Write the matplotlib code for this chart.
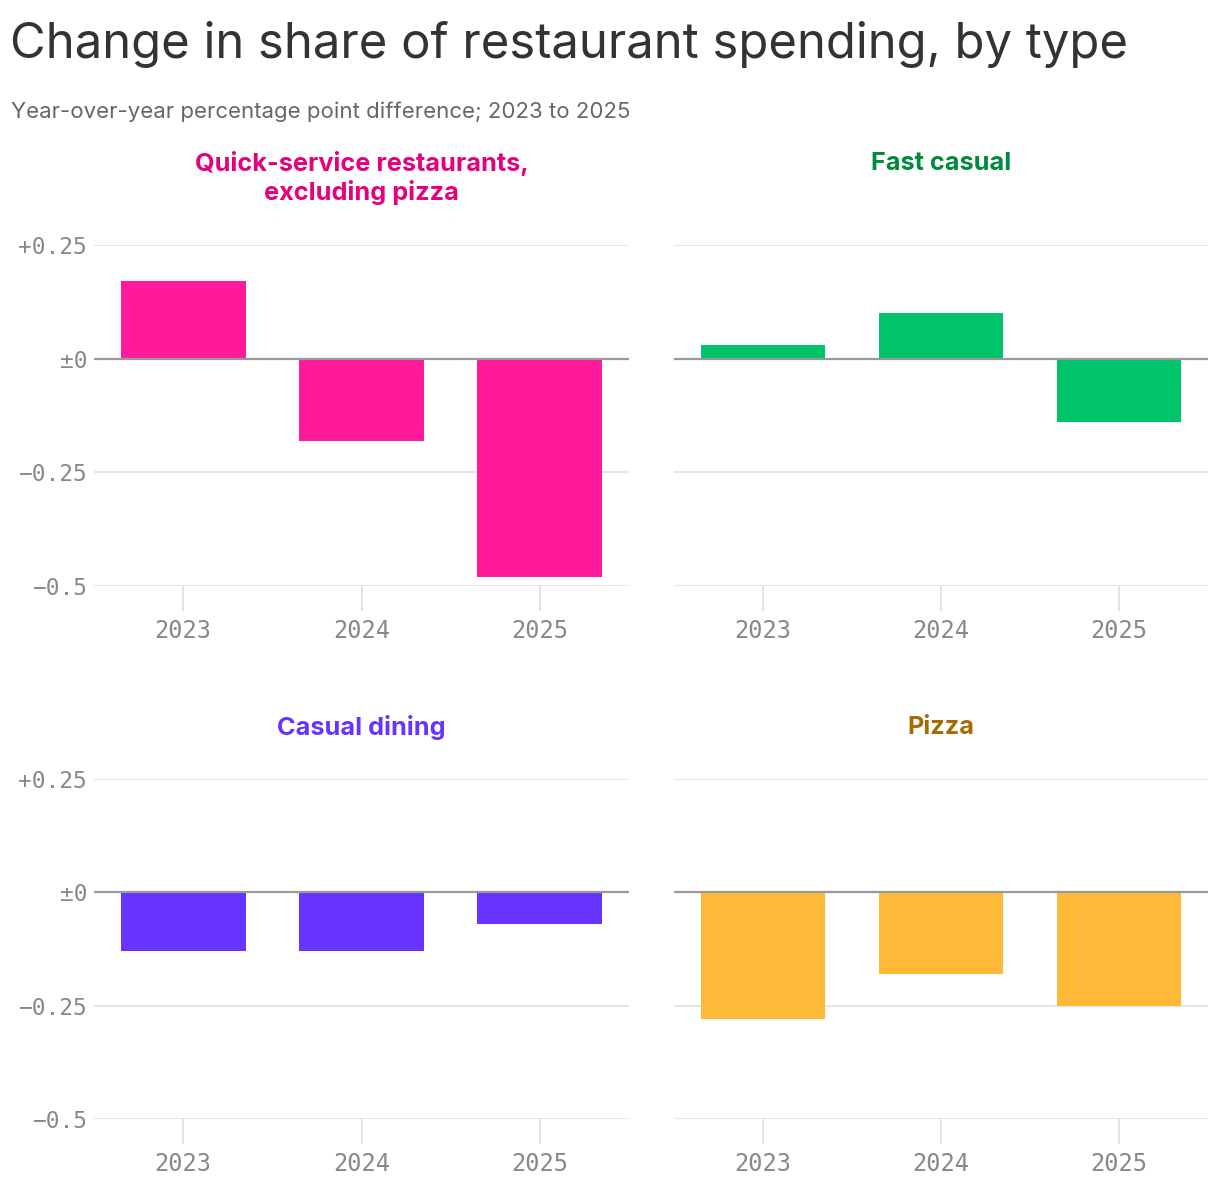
import matplotlib
matplotlib.use('Agg')
import matplotlib.pyplot as plt
import numpy as np

years = ["2023", "2024", "2025"]
panel_names = ["Quick-service restaurants,\nexcluding pizza", "Fast casual", "Casual dining", "Pizza"]
qsr = [0.17, -0.18, -0.48]
fast_casual = [0.03, 0.10, -0.14]
casual_dining = [-0.13, -0.13, -0.07]
pizza = [-0.28, -0.18, -0.25]
y_ticks = [-0.5, -0.25, 0, 0.25]
y_tick_labels = ["\u22120.5", "\u22120.25", "\u00b10", "+0.25"]

bar_colors = ["#ff1a9b", "#00c46a", "#6633ff", "#ffb938"]
title_colors = ["#e6007e", "#008a3e", "#6633ff", "#a36c00"]

W, H = 1220, 1188
fig = plt.figure(figsize=(W / 100, H / 100), dpi=100)
fig.patch.set_facecolor("white")

SANS = ["Inter", "DejaVu Sans"]
MONO = ["DejaVu Sans Mono"]


def fx(px):
    return px / W


def fy(px):
    return 1 - px / H


fig.text(fx(10), fy(45), "Change in share of restaurant spending, by type",
         family=SANS, fontsize=35.3, color="#333333", va="center", ha="left")
fig.text(fx(11), fy(112), "Year-over-year percentage point difference; 2023 to 2025",
         family=SANS, fontsize=16, color="#666666", va="center", ha="left")

# (left, right, top, bottom) in pixels
boxes = [(94, 629, 245, 586), (674, 1208, 245, 586),
         (94, 629, 779, 1119), (674, 1208, 779, 1119)]
title_y = [178, 163, 727, 727]
series = [qsr, fast_casual, casual_dining, pizza]

x = np.arange(len(years))
for i, (vals, (l, r, t, b)) in enumerate(zip(series, boxes)):
    ax = fig.add_axes([fx(l), fy(b), fx(r - l), (b - t) / H])
    ax.bar(x, vals, width=0.7, color=bar_colors[i], zorder=2)
    ax.axhline(0, color="#999999", lw=1.6, zorder=3)
    ax.set_xlim(-0.5, 2.5)
    ax.set_ylim(-0.5, 0.25)
    ax.set_yticks(y_ticks)
    if i % 2 == 0:
        ax.set_yticklabels(y_tick_labels, family=MONO, fontsize=16.5, color="#888888")
    else:
        ax.set_yticklabels([])
    ax.set_xticks(x)
    ax.set_xticklabels(years, family=MONO, fontsize=17, color="#888888")
    ax.tick_params(axis="y", length=0, pad=5)
    ax.tick_params(axis="x", length=18, width=1.4, color="#e3e3e3", pad=6)
    ax.grid(True, axis="y", color="#e5e5e5", lw=1.4, zorder=0)
    ax.set_axisbelow(True)
    for s in ax.spines.values():
        s.set_visible(False)
    fig.text(fx((l + r) / 2), fy(title_y[i]), panel_names[i], family=SANS,
             fontsize=18.2, fontweight="bold", color=title_colors[i],
             ha="center", va="center", linespacing=1.2)

fig.savefig("out.png", dpi=100)
